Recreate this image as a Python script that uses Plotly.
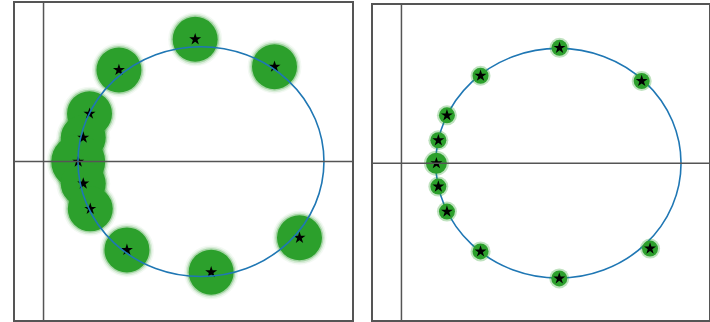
import plotly.graph_objects as go

W, H = 710, 322

# Unit circle centred on the real axis
circle_center = 1.28
circle_radius = 1.0

# Left panel: perturbed eigenvalues (stars) with their spread clouds
left_re = [1.233, 1.878, 0.613, 0.374, 0.323, 0.282, 0.323, 0.380, 0.678, 1.363, 2.081]
left_im = [1.064, 0.826, 0.797, 0.417, 0.209, 0.000, -0.191, -0.411, -0.768, -0.962, -0.663]
left_spread = [45, 45, 45, 45, 45, 54, 45, 45, 45, 45, 45]

# Right panel: eigenvalues on the circle with a small spread
right_re = [1.289, 1.959, 2.027, 1.287, 0.645, 0.371, 0.301, 0.285, 0.301, 0.371, 0.645]
right_im = [1.005, 0.716, -0.743, -1.003, -0.768, -0.421, -0.203, 0.000, 0.200, 0.417, 0.762]
right_spread = [16, 16, 16, 16, 16, 16, 16, 21, 16, 16, 16]

GREEN = "#2ca02c"
BLUE = "#1f77b4"
FRAME = "#555555"

x_range = [-0.232, 2.508]
y_range = [-1.378, 1.380]

fig = go.Figure()


def add_cloud(xa, ya, xs, ys, spread, layers):
    for extra, op in layers:
        fig.add_trace(go.Scatter(
            x=xs, y=ys, mode="markers", xaxis=xa, yaxis=ya,
            marker=dict(size=[s + extra for s in spread], color=GREEN, opacity=op,
                        line=dict(width=0)),
            hoverinfo="skip", showlegend=False))


# Left clouds: dense core with a soft fringe
add_cloud("x", "y", left_re, left_im, left_spread, [(9, 0.06), (6, 0.12), (3, 0.3), (0, 1.0)])
# Right: small dots with a faint rim
add_cloud("x2", "y2", right_re, right_im, right_spread, [(4, 0.3), (0, 1.0)])

# Stars on top
for xa, ya, xs, ys in [("x", "y", left_re, left_im), ("x2", "y2", right_re, right_im)]:
    fig.add_trace(go.Scatter(
        x=xs, y=ys, mode="markers", xaxis=xa, yaxis=ya,
        marker=dict(symbol="star", size=9, color="black", line=dict(width=0)),
        hoverinfo="skip", showlegend=False))

shapes = []
for xr, yr, circ_layer in [("x", "y", "above"), ("x2", "y2", "below")]:
    shapes.append(dict(type="circle", xref=xr, yref=yr, layer=circ_layer,
                       x0=circle_center - circle_radius, x1=circle_center + circle_radius,
                       y0=-circle_radius, y1=circle_radius,
                       line=dict(color=BLUE, width=1.6)))
    # Real and imaginary axes
    shapes.append(dict(type="line", xref=xr, yref=yr, layer="above",
                       x0=x_range[0], x1=x_range[1], y0=0, y1=0,
                       line=dict(color=FRAME, width=1.5)))
    shapes.append(dict(type="line", xref=xr, yref=yr, layer="above",
                       x0=0, x1=0, y0=y_range[0], y1=y_range[1],
                       line=dict(color=FRAME, width=1.5)))

axis_style = dict(showgrid=False, zeroline=False, showticklabels=False, ticks="",
                  showline=True, mirror=True, linecolor=FRAME, linewidth=1.5,
                  fixedrange=True)

fig.update_layout(
    width=W, height=H,
    margin=dict(l=0, r=0, t=0, b=0),
    paper_bgcolor="white", plot_bgcolor="white",
    showlegend=False,
    shapes=shapes,
    xaxis=dict(domain=[15 / W, 352 / W], range=x_range, **axis_style),
    yaxis=dict(domain=[2 / H, 319 / H], range=y_range, **axis_style),
    xaxis2=dict(domain=[373 / W, 709 / W], range=x_range, anchor="y2", **axis_style),
    yaxis2=dict(domain=[2 / H, 317 / H], range=[-1.365, 1.378], anchor="x2", **axis_style),
)

fig.write_html("out.html")
